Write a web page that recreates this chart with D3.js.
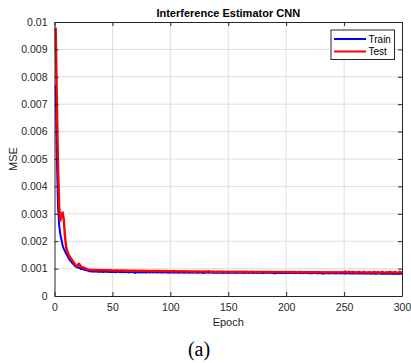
<!DOCTYPE html>
<html>
<head>
<meta charset="utf-8">
<script src="https://cdn.jsdelivr.net/npm/d3@7"></script>
<style>
  html, body { margin: 0; padding: 0; background: #fff; }
  svg { display: block; }
</style>
</head>
<body>
<svg id="chart" width="411" height="363"></svg>
<script>
// Training history of the interference estimator CNN (MSE per epoch)
const titleText = "Interference Estimator CNN";
const xTicks = [0, 50, 100, 150, 200, 250, 300];
const yTicks = [0, 0.001, 0.002, 0.003, 0.004, 0.005, 0.006, 0.007, 0.008, 0.009, 0.01];
const yTickLabels = ["0", "0.001", "0.002", "0.003", "0.004", "0.005", "0.006", "0.007", "0.008", "0.009", "0.01"];
const seriesNames = ["Train", "Test"];

const trainMse = [
  0.00770, 0.00520, 0.00330, 0.00260, 0.00225, 0.00205, 0.00185, 0.00172, 0.00165, 0.00155,
  0.00148, 0.00140, 0.00132, 0.00127, 0.00122, 0.00118, 0.00113, 0.00108, 0.00106, 0.00104,
  0.00105, 0.00101, 0.00098, 0.00099, 0.00097, 0.00096, 0.00094, 0.00095, 0.00092, 0.00090,
  0.000905, 0.000898, 0.000902, 0.000889, 0.000895, 0.000901, 0.000887, 0.000893, 0.000884, 0.000896,
  0.000889, 0.000878, 0.000892, 0.000886, 0.000881, 0.000894, 0.000872, 0.000885, 0.000879, 0.000888,
  0.000876, 0.000884, 0.000869, 0.000881, 0.000887, 0.000874, 0.000879, 0.000866, 0.000883, 0.000875,
  0.000871, 0.000880, 0.000868, 0.000877, 0.000862, 0.000874, 0.000881, 0.000859, 0.000872, 0.000838,
  0.000866, 0.000874, 0.000861, 0.000869, 0.000877, 0.000858, 0.000871, 0.000864, 0.000852, 0.000868,
  0.000873, 0.000860, 0.000866, 0.000871, 0.000855, 0.000868, 0.000862, 0.000874, 0.000857, 0.000865,
  0.000869, 0.000853, 0.000866, 0.000860, 0.000871, 0.000858, 0.000864, 0.000849, 0.000867, 0.000861,
  0.000857, 0.000868, 0.000852, 0.000863, 0.000859, 0.000866, 0.000848, 0.000861, 0.000855, 0.000864,
  0.000858, 0.000851, 0.000866, 0.000854, 0.000860, 0.000843, 0.000862, 0.000856, 0.000849, 0.000863,
  0.000855, 0.000861, 0.000847, 0.000858, 0.000852, 0.000864, 0.000850, 0.000857, 0.000841, 0.000859,
  0.000853, 0.000860, 0.000848, 0.000856, 0.000862, 0.000845, 0.000855, 0.000851, 0.000858, 0.000844,
  0.000857, 0.000850, 0.000846, 0.000859, 0.000852, 0.000838, 0.000855, 0.000849, 0.000856, 0.000843,
  0.000851, 0.000858, 0.000845, 0.000853, 0.000848, 0.000856, 0.000840, 0.000852, 0.000847, 0.000854,
  0.000846, 0.000855, 0.000841, 0.000850, 0.000857, 0.000844, 0.000851, 0.000837, 0.000853, 0.000846,
  0.000849, 0.000842, 0.000855, 0.000848, 0.000839, 0.000852, 0.000845, 0.000850, 0.000836, 0.000848,
  0.000843, 0.000851, 0.000846, 0.000838, 0.000852, 0.000844, 0.000849, 0.000841, 0.000847, 0.000818,
  0.000845, 0.000839, 0.000850, 0.000843, 0.000836, 0.000848, 0.000841, 0.000846, 0.000833, 0.000844,
  0.000838, 0.000847, 0.000840, 0.000835, 0.000845, 0.000837, 0.000843, 0.000830, 0.000841, 0.000836,
  0.000844, 0.000833, 0.000839, 0.000846, 0.000831, 0.000840, 0.000835, 0.000842, 0.000828, 0.000838,
  0.000833, 0.000841, 0.000829, 0.000837, 0.000843, 0.000830, 0.000836, 0.000826, 0.000839, 0.000832,
  0.000835, 0.000812, 0.000834, 0.000828, 0.000838, 0.000831, 0.000825, 0.000836, 0.000829, 0.000833,
  0.000827, 0.000835, 0.000822, 0.000831, 0.000826, 0.000834, 0.000820, 0.000829, 0.000833, 0.000824,
  0.000830, 0.000818, 0.000828, 0.000833, 0.000821, 0.000827, 0.000815, 0.000829, 0.000824, 0.000831,
  0.000819, 0.000826, 0.000822, 0.000830, 0.000816, 0.000825, 0.000820, 0.000828, 0.000814, 0.000823,
  0.000818, 0.000826, 0.000812, 0.000821, 0.000825, 0.000815, 0.000822, 0.000810, 0.000820, 0.000817,
  0.000823, 0.000811, 0.000819, 0.000814, 0.000821, 0.000808, 0.000817, 0.000813, 0.000820, 0.000809,
  0.000816, 0.000812, 0.000806, 0.000818, 0.000810, 0.000814, 0.000805, 0.000813, 0.000809, 0.000811
];

const testMse = [
  0.00980, 0.00720, 0.00480, 0.00330, 0.00275, 0.00290, 0.00305, 0.00280, 0.00220, 0.00180,
  0.00165, 0.00152, 0.00145, 0.00138, 0.00132, 0.00126, 0.00120, 0.00114, 0.00110, 0.00112,
  0.00118, 0.00114, 0.00106, 0.00104, 0.00104, 0.00102, 0.00100, 0.00098, 0.00097, 0.00095,
  0.000952, 0.000948, 0.000955, 0.000946, 0.000950, 0.000944, 0.000949, 0.000941, 0.000947, 0.000943,
  0.000940, 0.000945, 0.000938, 0.000942, 0.000936, 0.000941, 0.000934, 0.000939, 0.000932, 0.000937,
  0.000935, 0.000930, 0.000936, 0.000929, 0.000933, 0.000927, 0.000932, 0.000926, 0.000931, 0.000925,
  0.000929, 0.000924, 0.000928, 0.000922, 0.000927, 0.000921, 0.000925, 0.000920, 0.000924, 0.000919,
  0.000923, 0.000918, 0.000922, 0.000917, 0.000921, 0.000916, 0.000920, 0.000915, 0.000919, 0.000914,
  0.000918, 0.000913, 0.000917, 0.000912, 0.000916, 0.000911, 0.000915, 0.000910, 0.000914, 0.000909,
  0.000913, 0.000908, 0.000912, 0.000907, 0.000911, 0.000906, 0.000910, 0.000905, 0.000909, 0.000904,
  0.000908, 0.000903, 0.000907, 0.000902, 0.000906, 0.000901, 0.000905, 0.000900, 0.000904, 0.000899,
  0.000903, 0.000898, 0.000902, 0.000897, 0.000901, 0.000896, 0.000900, 0.000895, 0.000899, 0.000894,
  0.000898, 0.000893, 0.000897, 0.000892, 0.000896, 0.000891, 0.000895, 0.000890, 0.000894, 0.000889,
  0.000893, 0.000888, 0.000905, 0.000891, 0.000887, 0.000892, 0.000886, 0.000891, 0.000885, 0.000890,
  0.000886, 0.000890, 0.000884, 0.000889, 0.000883, 0.000888, 0.000882, 0.000887, 0.000881, 0.000886,
  0.000882, 0.000887, 0.000880, 0.000885, 0.000879, 0.000886, 0.000880, 0.000884, 0.000878, 0.000885,
  0.000879, 0.000884, 0.000877, 0.000883, 0.000878, 0.000884, 0.000876, 0.000882, 0.000877, 0.000883,
  0.000876, 0.000881, 0.000875, 0.000882, 0.000876, 0.000880, 0.000874, 0.000881, 0.000875, 0.000879,
  0.000874, 0.000880, 0.000873, 0.000879, 0.000874, 0.000878, 0.000872, 0.000879, 0.000873, 0.000877,
  0.000872, 0.000878, 0.000871, 0.000877, 0.000872, 0.000876, 0.000870, 0.000877, 0.000871, 0.000875,
  0.000870, 0.000876, 0.000869, 0.000875, 0.000870, 0.000874, 0.000868, 0.000875, 0.000869, 0.000873,
  0.000868, 0.000874, 0.000867, 0.000873, 0.000868, 0.000872, 0.000866, 0.000873, 0.000867, 0.000871,
  0.000866, 0.000872, 0.000865, 0.000871, 0.000866, 0.000870, 0.000864, 0.000871, 0.000865, 0.000869,
  0.000864, 0.000870, 0.000863, 0.000869, 0.000864, 0.000868, 0.000862, 0.000869, 0.000863, 0.000867,
  0.000862, 0.000868, 0.000861, 0.000867, 0.000862, 0.000866, 0.000860, 0.000867, 0.000861, 0.000865,
  0.000895, 0.000872, 0.000861, 0.000888, 0.000866, 0.000860, 0.000884, 0.000862, 0.000866, 0.000859,
  0.000865, 0.000860, 0.000878, 0.000862, 0.000858, 0.000864, 0.000882, 0.000861, 0.000857, 0.000863,
  0.000859, 0.000876, 0.000858, 0.000862, 0.000857, 0.000880, 0.000860, 0.000856, 0.000874, 0.000858,
  0.000862, 0.000857, 0.000886, 0.000859, 0.000855, 0.000861, 0.000872, 0.000856, 0.000860, 0.000883,
  0.000857, 0.000862, 0.000855, 0.000878, 0.000859, 0.000854, 0.000860, 0.000881, 0.000856, 0.000858
];

const epochs = d3.range(1, trainMse.length + 1);

const margin = { left: 54.5, right: 9, top: 22, bottom: 67 };
const W = 411, H = 363;
const svg = d3.select("#chart");
const plotW = W - margin.left - margin.right;
const plotH = H - margin.top - margin.bottom;

const x = d3.scaleLinear().domain([0, 300]).range([0, plotW]);
const y = d3.scaleLinear().domain([0, 0.01]).range([plotH, 0]);

const axisColor = "#262626";
const font = "'Liberation Sans', Arial, Helvetica, sans-serif";

const g = svg.append("g").attr("transform", `translate(${margin.left},${margin.top})`);

// grid
g.append("g").selectAll("line").data(xTicks.slice(1, -1)).join("line")
  .attr("x1", d => x(d)).attr("x2", d => x(d))
  .attr("y1", 0).attr("y2", plotH)
  .attr("stroke", "#dfdfdf").attr("stroke-width", 1);
g.append("g").selectAll("line").data(yTicks.slice(1, -1)).join("line")
  .attr("x1", 0).attr("x2", plotW)
  .attr("y1", d => y(d)).attr("y2", d => y(d))
  .attr("stroke", "#dfdfdf").attr("stroke-width", 1);

// series
const line = d3.line().x((d, i) => x(epochs[i])).y(d => y(d));
g.append("path").datum(trainMse).attr("d", line)
  .attr("fill", "none").attr("stroke", "#0000ff").attr("stroke-width", 2)
  .attr("stroke-linejoin", "round");
g.append("path").datum(testMse).attr("d", line)
  .attr("fill", "none").attr("stroke", "#ff0000").attr("stroke-width", 2.4)
  .attr("stroke-linejoin", "round");

// axes (inward ticks, box)
const xAxis = d3.axisBottom(x).tickValues(xTicks).tickSizeInner(-4).tickSizeOuter(0).tickPadding(8);
const yAxis = d3.axisLeft(y).tickValues(yTicks).tickFormat((d, i) => yTickLabels[i])
  .tickSizeInner(-4).tickSizeOuter(0).tickPadding(7);

const gx = g.append("g").attr("transform", `translate(0,${plotH})`).call(xAxis);
const gy = g.append("g").call(yAxis);
const gxTop = g.append("g").call(d3.axisTop(x).tickValues(xTicks).tickSizeInner(-4).tickSizeOuter(0).tickFormat(""));
const gyRight = g.append("g").attr("transform", `translate(${plotW},0)`)
  .call(d3.axisRight(y).tickValues(yTicks).tickSizeInner(-4).tickSizeOuter(0).tickFormat(""));

[gx, gy, gxTop, gyRight].forEach(a => {
  a.select(".domain").attr("stroke", axisColor).attr("stroke-width", 1);
  a.selectAll(".tick line").attr("stroke", axisColor).attr("stroke-width", 1);
  a.selectAll(".tick text").attr("fill", axisColor)
    .style("font-family", font).style("font-size", "10.5px");
});

// title and labels
svg.append("text").attr("x", margin.left + plotW / 2).attr("y", 17)
  .attr("text-anchor", "middle").attr("fill", "#000")
  .style("font-family", font).style("font-size", "11px").style("font-weight", "bold")
  .text(titleText);

svg.append("text").attr("x", margin.left + plotW / 2).attr("y", 326)
  .attr("text-anchor", "middle").attr("fill", axisColor)
  .style("font-family", font).style("font-size", "11px")
  .text("Epoch");

svg.append("text")
  .attr("transform", `translate(17,${margin.top + plotH / 2}) rotate(-90)`)
  .attr("text-anchor", "middle").attr("fill", axisColor)
  .style("font-family", font).style("font-size", "11px")
  .text("MSE");

svg.append("text").attr("x", 199).attr("y", 356)
  .attr("text-anchor", "middle").attr("fill", "#000")
  .style("font-family", "'Liberation Serif', 'Times New Roman', serif").style("font-size", "20px")
  .text("(a)");

// legend
const legend = svg.append("g").attr("transform", "translate(331,30)");
legend.append("rect").attr("width", 63.5).attr("height", 29.5)
  .attr("fill", "#fff").attr("stroke", axisColor).attr("stroke-width", 1);
const legColors = ["#0000ff", "#ff0000"];
seriesNames.forEach((name, i) => {
  const yy = 9 + i * 12.5;
  legend.append("line").attr("x1", 3).attr("x2", 35).attr("y1", yy).attr("y2", yy)
    .attr("stroke", legColors[i]).attr("stroke-width", 2);
  legend.append("text").attr("x", 37.5).attr("y", yy + 3.6)
    .attr("fill", "#000").style("font-family", font).style("font-size", "10px")
    .text(name);
});
</script>
</body>
</html>
